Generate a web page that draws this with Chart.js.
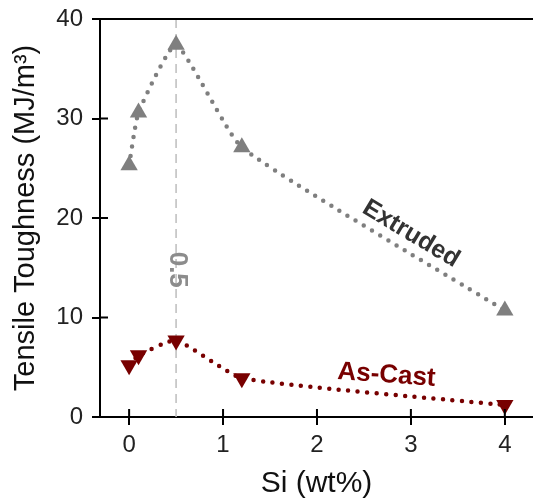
<!DOCTYPE html>
<html>
<head>
<meta charset="utf-8">
<script src="https://cdn.jsdelivr.net/npm/chart.js@4"></script>
<style>
  html, body { margin: 0; padding: 0; background: #fff; }
  #wrap { width: 533px; height: 504px; }
</style>
</head>
<body>
<div id="wrap"><canvas id="chart" width="533" height="504"></canvas></div>
<script>
const siContent = [0, 0.1, 0.5, 1.2, 4];
const extruded = [25.3, 30.6, 37.4, 27.1, 10.7];
const asCast = [5.2, 6.2, 7.7, 3.9, 1.2];
const xTicks = [0, 1, 2, 3, 4];
const yTicks = [0, 10, 20, 30, 40];
const markerLine = 0.5;

const GREY = '#7f7f7f';
const MAROON = '#780000';
const FONT = 'Arial, "Liberation Sans", sans-serif';

const toPoints = (values) => values.map((y, i) => ({ x: siContent[i], y }));

// ticks that cross the axis line + top border + dashed marker + text labels
const decorations = {
  id: 'decorations',
  beforeDatasetsDraw(chart) {
    const { ctx, chartArea, scales: { x } } = chart;
    const px = x.getPixelForValue(markerLine);

    ctx.save();
    ctx.strokeStyle = '#bdbdbd';
    ctx.lineWidth = 1.5;
    ctx.setLineDash([9, 6]);
    ctx.beginPath();
    ctx.moveTo(px, chartArea.top);
    ctx.lineTo(px, chartArea.bottom);
    ctx.stroke();
    ctx.restore();
  },
  afterDatasetsDraw(chart) {
    const { ctx, chartArea, scales: { x, y } } = chart;

    ctx.save();
    ctx.strokeStyle = '#000';
    ctx.lineWidth = 2;
    ctx.beginPath();
    ctx.moveTo(chartArea.left, chartArea.top);
    ctx.lineTo(chartArea.right, chartArea.top);
    for (const v of xTicks) {
      const p = x.getPixelForValue(v);
      ctx.moveTo(p, chartArea.bottom);
      ctx.lineTo(p, chartArea.bottom - 8);
    }
    for (const v of yTicks) {
      const p = y.getPixelForValue(v);
      ctx.moveTo(chartArea.left, p);
      ctx.lineTo(chartArea.left + 8, p);
    }
    ctx.stroke();

    const label = (text, vx, vy, deg, color, size) => {
      ctx.save();
      ctx.translate(x.getPixelForValue(vx), y.getPixelForValue(vy));
      ctx.rotate((deg * Math.PI) / 180);
      ctx.font = `bold ${size}px ${FONT}`;
      ctx.fillStyle = color;
      ctx.textAlign = 'center';
      ctx.textBaseline = 'middle';
      ctx.fillText(text, 0, 0);
      ctx.restore();
    };

    label('Extruded', 3.0, 18.4, 31, '#333', 25);
    label('As-Cast', 2.74, 4.2, 4, MAROON, 26);
    label('0.5', 0.51, 14.8, 90, '#8c8c8c', 26);
    ctx.restore();
  },
};

const seriesStyle = (color, rotation) => ({
  borderColor: color,
  backgroundColor: color,
  borderWidth: 4.5,
  borderDash: [0, 9.5],
  borderCapStyle: 'round',
  tension: 0.15,
  pointStyle: 'triangle',
  pointRotation: rotation,
  pointRadius: 10,
  pointBorderWidth: 0,
  pointBackgroundColor: color,
});

new Chart(document.getElementById('chart'), {
  type: 'line',
  data: {
    datasets: [
      { label: 'Extruded', data: toPoints(extruded), ...seriesStyle(GREY, 0) },
      { label: 'As-Cast', data: toPoints(asCast), ...seriesStyle(MAROON, 180) },
    ],
  },
  options: {
    responsive: false,
    animation: false,
    layout: { autoPadding: false, padding: { top: 19, right: 0, left: 0, bottom: 0 } },
    plugins: { legend: { display: false }, tooltip: { enabled: false } },
    scales: {
      x: {
        type: 'linear',
        min: -0.31,
        max: 4.3,
        afterBuildTicks: (scale) => {
          scale.ticks = xTicks.map((value) => ({ value }));
        },
        afterFit: (scale) => {
          scale.height = 87;
          scale.paddingLeft = 0;
          scale.paddingRight = 0;
        },
        border: { color: '#000', width: 2 },
        grid: { drawOnChartArea: false, drawTicks: true, tickLength: 8, color: '#000', lineWidth: 2 },
        ticks: {
          padding: 6,
          color: '#222',
          font: { family: FONT, size: 24 },
        },
        title: {
          display: true,
          text: 'Si (wt%)',
          color: '#111',
          padding: { top: 0, bottom: 2 },
          font: { family: FONT, size: 30 },
        },
      },
      y: {
        min: 0,
        max: 40,
        afterBuildTicks: (scale) => {
          scale.ticks = yTicks.map((value) => ({ value }));
        },
        afterFit: (scale) => {
          scale.width = 100;
          scale.paddingTop = 0;
          scale.paddingBottom = 0;
        },
        border: { color: '#000', width: 2 },
        grid: { drawOnChartArea: false, drawTicks: true, tickLength: 8, color: '#000', lineWidth: 2 },
        ticks: {
          padding: 9,
          color: '#222',
          font: { family: FONT, size: 24 },
        },
        title: {
          display: true,
          text: 'Tensile Toughness (MJ/m³)',
          color: '#111',
          padding: { top: 9, bottom: 0 },
          font: { family: FONT, size: 29 },
        },
      },
    },
  },
  plugins: [decorations],
});
</script>
</body>
</html>
